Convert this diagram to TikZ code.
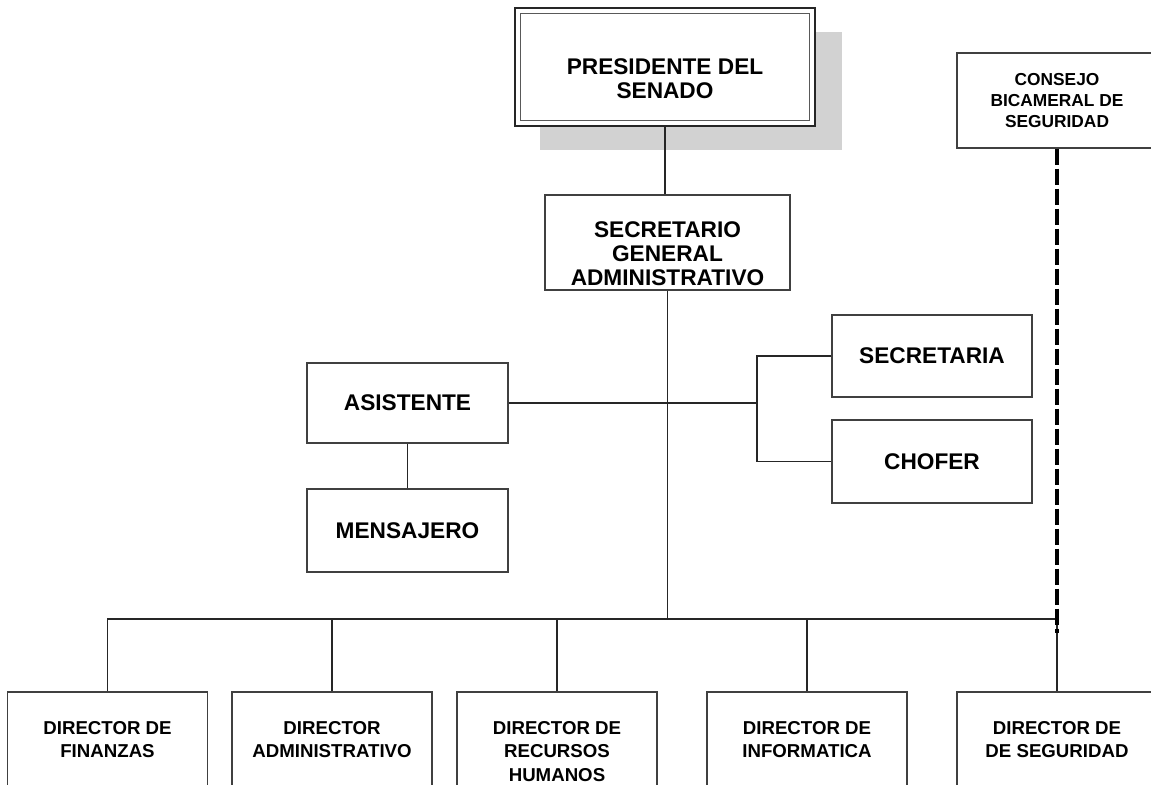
\documentclass[tikz,border=0pt]{standalone}
\usepackage{fontspec}
\setmainfont{Liberation Sans}
\begin{document}
\begin{tikzpicture}[x=0.75pt, y=-0.75pt,
    unit/.style={draw=black!75, line width=0.9pt, inner sep=0pt, align=center,
      font=\bfseries\fontsize{17}{18}\selectfont},
    staff/.style={unit, minimum width=150.75pt},
    director/.style={unit, minimum width=150pt, minimum height=82.5pt,
      text height=49.1pt, text depth=33.4pt, font=\bfseries\fontsize{14}{17.6}\selectfont},
    wire/.style={draw=black!85, line width=0.8pt},
    advisory/.style={line width=3pt, dash pattern=on 12pt off 3pt}]
  \clip (0,0) rectangle (1151,784);
  \fill[gray!35] (540,32) rectangle (842,150);
  \node[unit, draw=black!85, minimum width=225pt, minimum height=88.5pt, text height=68.25pt,
    text depth=20.25pt, fill=white] (pres) at (665,67) {PRESIDENTE DEL\\SENADO};
  \draw[draw=black!65, line width=0.7pt] ([shift={(6,6)}]pres.north west)
    rectangle ([shift={(-6,-6)}]pres.south east);
  \node[unit, minimum width=183.75pt, minimum height=71.25pt, text height=67.5pt,
    text depth=3.75pt] (sec) at (667.5,242.5) {SECRETARIO\\GENERAL\\ADMINISTRATIVO};
  \node[unit, minimum width=150pt, minimum height=71.25pt,
    font=\bfseries\fontsize{13}{15.75}\selectfont] (cons) at (1057,100.5) {CONSEJO\\BICAMERAL DE\\SEGURIDAD};
  \node[staff, minimum height=60pt] (asis) at (407.5,403) {ASISTENTE};
  \node[staff, minimum height=62.25pt] (mens) at (407.5,530.5) {MENSAJERO};
  \node[staff, minimum width=150pt, minimum height=61.5pt] (secr) at (932,356) {SECRETARIA};
  \node[staff, minimum width=150pt, minimum height=62.25pt] (chof) at (932,461.5) {CHOFER};
  \node[director] (fin) at (107.5,747) {DIRECTOR DE\\FINANZAS};
  \node[director] (adm) at (332,747) {DIRECTOR\\ADMINISTRATIVO};
  \node[director, text height=66.75pt, text depth=15.75pt] (rrhh) at (557,747) {DIRECTOR DE\\RECURSOS\\HUMANOS};
  \node[director] (inf) at (807,747) {DIRECTOR DE\\INFORMATICA};
  \node[director] (seg) at (1057,747) {DIRECTOR DE\\DE SEGURIDAD};
  \coordinate (bus) at (666,619);
  \coordinate (brk) at (757,403);
  \coordinate (advend) at (1057,633);
  \draw[wire] (pres.south) -- (pres.south |- sec.north);
  \draw[wire] (sec.south) -- (sec.south |- bus);
  \draw[wire] (asis.east) -- (brk);
  \draw[wire] (secr.west) -| (brk) |- (chof.west);
  \draw[wire] (asis) -- (mens);
  \draw[wire] (fin.north) -- (fin.north |- bus) -- (seg.north |- bus) -- (seg.north);
  \foreach \d in {adm,rrhh,inf}
    \draw[wire] (\d.north) -- (\d.north |- bus);
  \draw[advisory] (cons.south) -- (advend);
\end{tikzpicture}
\end{document}
